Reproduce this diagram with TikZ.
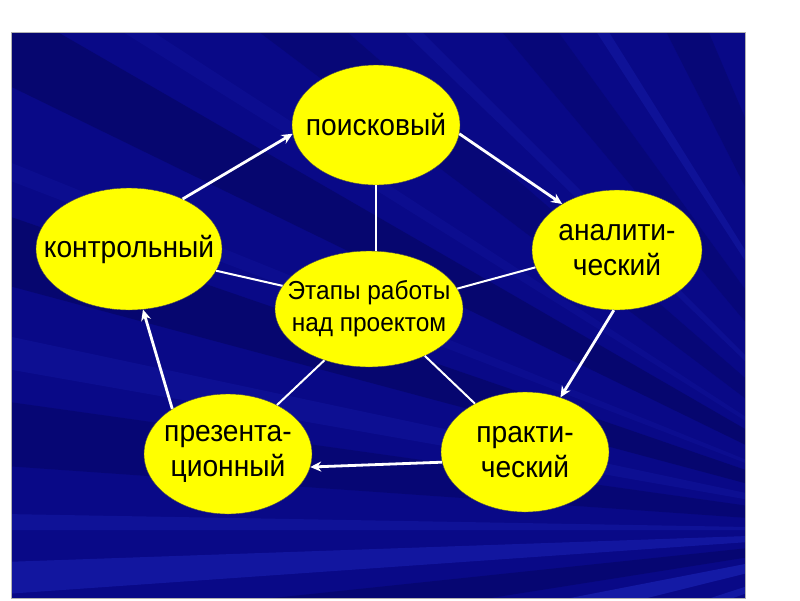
\documentclass[tikz,border=0pt]{standalone}
\usepackage{fontspec}
\setmainfont[FakeStretch=0.94]{Liberation Sans}
\usetikzlibrary{shapes.geometric,arrows.meta}
\definecolor{bgbase}{RGB}{9,9,135}
\definecolor{bgdark}{RGB}{4,4,95}
\definecolor{bglight}{RGB}{30,40,190}
\definecolor{ellyellow}{RGB}{255,255,0}
\tikzset{
  stage/.style={ellipse, fill=ellyellow, draw=black!70, line width=0.4pt, inner sep=-40pt,
    align=center, text=black, font=\fontsize{30}{35}\selectfont},
  cyc/.style={draw=white, line width=2.8pt, -{Stealth[length=11pt,width=10pt]}},
  spoke/.style={draw=white, line width=2pt},
}
\begin{document}
\begin{tikzpicture}[x=1pt,y=-1pt]
\useasboundingbox (0,0) rectangle (800,600);
\fill[white] (0,0) rectangle (800,600);
% background panel with rays
\begin{scope}
\clip (11,32) rectangle (745,598);
\fill[bgbase] (11,32) rectangle (745,598);
\coordinate (F) at (920,530);
\foreach \a/\b/\c/\o in {
  160/162/bglight/0.5, 166/169/bglight/0.55, 171/174/bgdark/0.5,
  176/178/bglight/0.45, 180/181/bglight/0.3, 184/188/bgdark/0.45,
  190/192/bglight/0.2, 195/199/bgdark/0.6, 201/202/bglight/0.15,
  206/210/bgdark/0.6, 212/213/bglight/0.15, 217/221/bgdark/0.4,
  224/225/bglight/0.2, 230/234/bgdark/0.35, 237/238/bglight/0.3,
  243/247/bgdark/0.4}
  \fill[\c, fill opacity=\o] (F) -- ++(\a:1300) -- ++(\b+90:{1300*sin(\b-\a)}) -- cycle;
\end{scope}
\draw[black!30, line width=0.6pt] (11,32) rectangle (745,598);
% nodes
\node[stage, minimum width=168pt, minimum height=120pt] (poisk) at (376,125) {поисковый};
\node[stage, minimum width=186pt, minimum height=122pt] (contr) at (129,249) {контрольный};
\node[stage, minimum width=170pt, minimum height=120pt] (anal) at (617,250) {аналити-\\ческий};
\node[stage, minimum width=188pt, minimum height=116pt, font=\fontsize{26}{32}\selectfont] (centre) at (369,309) {Этапы работы\\над проектом};
\node[stage, minimum width=168pt, minimum height=120pt] (prez) at (228,454) {презента-\\ционный};
\node[stage, minimum width=168pt, minimum height=120pt] (prak) at (525,452) {практи-\\ческий};
% cycle arrows
\draw[cyc] (contr.43) -- (poisk.186);
\draw[cyc] (poisk.-6) -- (anal.140);
\draw[cyc] (anal.-93) -- (prak.57);
\draw[cyc] (prak.187) -- (prez.-9);
\draw[cyc] (prez.141) -- (contr.-77);
% spokes
\draw[spoke] (poisk.south) -- (poisk.south |- centre.north);
\draw[spoke] (contr.-14) -- (centre.165);
\draw[spoke] (anal.192) -- (centre.13);
\draw[spoke] (prez.45) -- (centre.229);
\draw[spoke] (prak.136) -- (centre.-40);
\end{tikzpicture}
\end{document}
